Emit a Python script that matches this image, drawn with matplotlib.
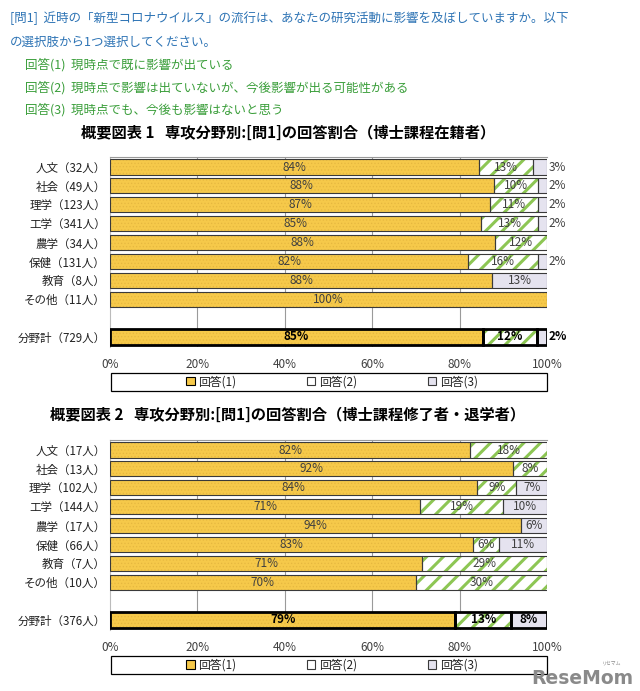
import matplotlib
matplotlib.use('Agg')
import matplotlib.pyplot as plt
from matplotlib.patches import Patch, Rectangle

plt.rcParams['font.family'] = ['Noto Sans CJK JP', 'DejaVu Sans']
plt.rcParams['hatch.linewidth'] = 2.0

# ---------------- data ----------------
header_q = ["[問1]  近時の「新型コロナウイルス」の流行は、あなたの研究活動に影響を及ぼしていますか。以下",
            "の選択肢から1つ選択してください。"]
header_opts = ["回答(1)  現時点で既に影響が出ている",
               "回答(2)  現時点で影響は出ていないが、今後影響が出る可能性がある",
               "回答(3)  現時点でも、今後も影響はないと思う"]
legend_labels = ["回答(1)", "回答(2)", "回答(3)"]
tick_labels = ["0%", "20%", "40%", "60%", "80%", "100%"]

title1 = "概要図表 1   専攻分野別:[問1]の回答割合（博士課程在籍者）"
cats1 = ["人文（32人）", "社会（49人）", "理学（123人）", "工学（341人）", "農学（34人）",
         "保健（131人）", "教育（8人）", "その他（11人）", "分野計（729人）"]
ch1_a1 = [84.4, 87.8, 87, 85, 88.2, 82, 87.5, 100, 85.3]
ch1_a2 = [12.5, 10.2, 11, 13, 11.8, 16, 0, 0, 12.4]
ch1_a3 = [3.1, 2.0, 2, 2, 0, 2, 12.5, 0, 2.3]

title2 = "概要図表 2   専攻分野別:[問1]の回答割合（博士課程修了者・退学者）"
cats2 = ["人文（17人）", "社会（13人）", "理学（102人）", "工学（144人）", "農学（17人）",
         "保健（66人）", "教育（7人）", "その他（10人）", "分野計（376人）"]
ch2_a1 = [82.4, 92.3, 84, 71, 94.1, 83, 71.4, 70, 79]
ch2_a2 = [17.6, 7.7, 9, 19, 0, 6, 28.6, 30, 12.8]
ch2_a3 = [0, 0, 7, 10, 5.9, 11, 0, 0, 8.2]

# ---------------- style ----------------
W, H = 640, 691
YELLOW = '#F6C94A'
DOT = '#E6B840'
GREEN = '#8DC654'
LAV = '#E5E3EF'
EDGE = '#3a3a3a'
TXT = '#404040'
BLUE = '#2E74B5'
GRN_TXT = '#3A9E3A'

fig = plt.figure(figsize=(W / 100, H / 100), dpi=100)


def fy(y):
    return 1 - y / H


def fx(x):
    return x / W


# header
fig.text(fx(10), fy(18), header_q[0], color=BLUE, fontsize=9, va='center', ha='left')
fig.text(fx(10), fy(42), header_q[1], color=BLUE, fontsize=9, va='center', ha='left')
for i, t in enumerate(header_opts):
    fig.text(fx(25), fy(65 + 22.5 * i), t, color=GRN_TXT, fontsize=9, va='center', ha='left')


def fmt(v):
    return f"{int(v + 0.5)}%"


def draw(top_px, bottom_px, title, title_y, cats, a1, a2, a3, leg_y):
    ax = fig.add_axes([fx(110), fy(bottom_px), 437 / W, (bottom_px - top_px) / H])
    ypos = [0, 1, 2, 3, 4, 5, 6, 7, 9]
    h = 0.8
    for i, y in enumerate(ypos):
        total = i == len(ypos) - 1
        lw = 2.0 if total else 0.8
        segs = [(0, a1[i], YELLOW, '.....', DOT),
                (a1[i], a2[i], 'white', '//', GREEN),
                (a1[i] + a2[i], a3[i], LAV, None, None)]
        for k, (left, w, fc, hatch, hc) in enumerate(segs):
            if w <= 0:
                continue
            ax.barh(y, w, left=left, height=h, color=fc, edgecolor='none', linewidth=0, zorder=2)
            if hatch:
                plt.rcParams['hatch.linewidth'] = 2.2 if k == 1 else 0.5
                ax.barh(y, w, left=left, height=h, color='none', edgecolor=hc,
                        hatch=hatch, linewidth=0, zorder=3)
            ax.barh(y, w, left=left, height=h, color='none', edgecolor='black' if total else EDGE,
                    linewidth=lw, zorder=4)
            txt = fmt(w)
            weight = 'bold' if total else 'normal'
            if w < 5:
                ax.text(100.4, y, txt, ha='left', va='center', fontsize=8.5, color=TXT if not total else 'black',
                        fontweight=weight, clip_on=False, zorder=5)
            else:
                ax.text(left + w / 2, y, txt, ha='center', va='center', fontsize=8.5,
                        color=TXT if not total else 'black', fontweight=weight, zorder=5)
    ax.set_xlim(0, 100)
    ax.set_ylim(9.53, -0.53)
    ax.set_yticks(ypos)
    ax.set_yticklabels(cats, fontsize=8.3, color='#222222')
    ax.set_xticks([0, 20, 40, 60, 80, 100])
    ax.set_xticklabels(tick_labels, fontsize=8.5, color=TXT)
    ax.tick_params(axis='both', length=0)
    ax.tick_params(axis='y', pad=3)
    ax.tick_params(axis='x', pad=8)
    for x in [20, 40, 60, 80]:
        ax.axvline(x, color='#9a9a9a', linewidth=0.8, zorder=1)
    for s in ['right', 'bottom']:
        ax.spines[s].set_visible(False)
    ax.spines['top'].set_color('#9a9a9a')
    ax.spines['left'].set_color('#bbbbbb')
    ax.spines['top'].set_linewidth(0.8)
    ax.spines['left'].set_linewidth(0.8)

    fig.text(fx(288), fy(title_y), title, ha='center', va='center', fontsize=11,
             fontweight='bold', color='black')

    # legend frame + legend
    fig.patches.append(Rectangle((fx(111), fy(leg_y + 9)), 436 / W, 18 / H, transform=fig.transFigure,
                                 fill=False, edgecolor='black', linewidth=0.9))
    handles = [Patch(facecolor=YELLOW, edgecolor='black', linewidth=0.8),
               Patch(facecolor='white', edgecolor=EDGE, linewidth=0.8),
               Patch(facecolor=LAV, edgecolor=EDGE, linewidth=0.8)]
    fig.legend(handles, legend_labels, loc='center', bbox_to_anchor=(fx(332), fy(leg_y)), ncol=3,
               frameon=False, fontsize=8.5, handlelength=0.7, handleheight=0.7,
               handletextpad=0.3, columnspacing=6.0, labelcolor='#222222')
    return ax


draw(157, 347, title1, 133, cats1, ch1_a1, ch1_a2, ch1_a3, 382)
draw(440, 630, title2, 415, cats2, ch2_a1, ch2_a2, ch2_a3, 665)

# watermark
fig.text(fx(582), fy(678), "ReseMom", ha='center', va='center', fontsize=13.5, fontweight='bold',
         color='#8a8a8a', family=['DejaVu Sans'])
fig.text(fx(612), fy(663), "リセマム", ha='center', va='center', fontsize=3.5, color='#8a8a8a')

fig.savefig('out.png', dpi=100)
